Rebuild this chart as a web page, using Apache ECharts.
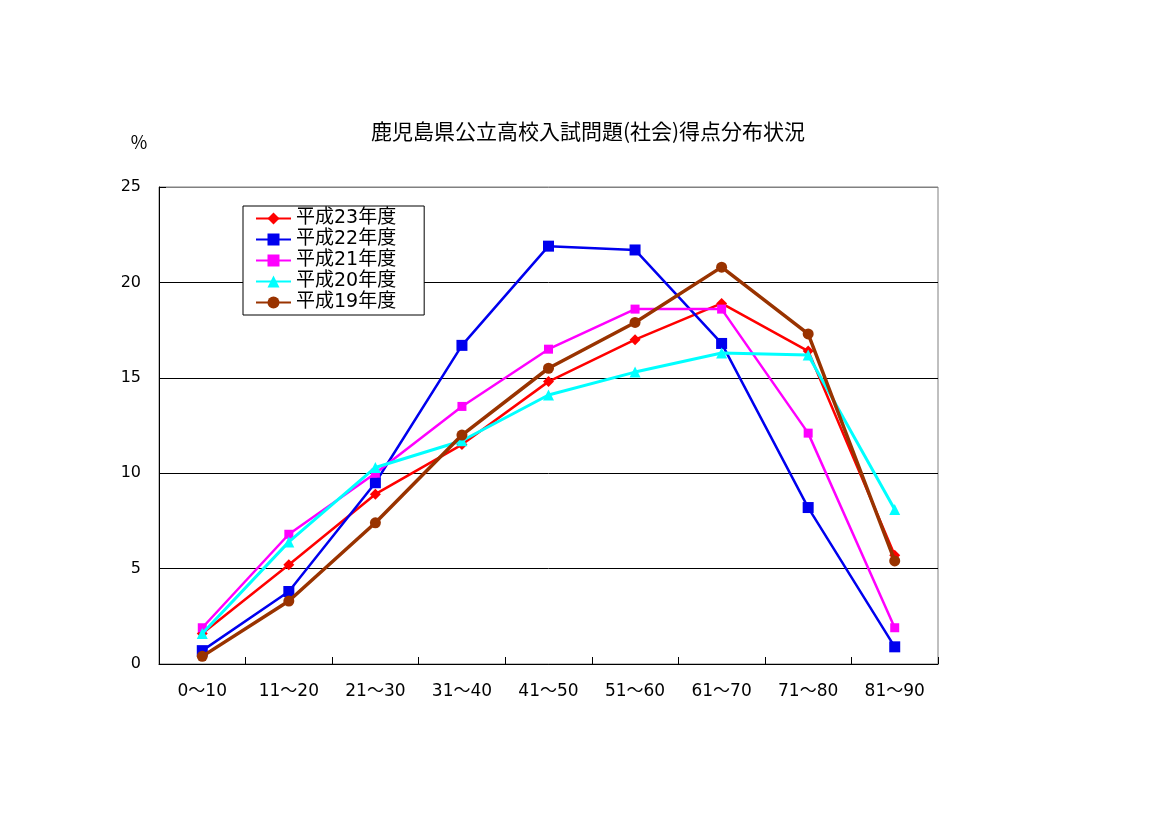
<!DOCTYPE html>
<html>
<head>
<meta charset="utf-8">
<script src="https://cdn.jsdelivr.net/npm/echarts@6/dist/echarts.min.js"></script>
<style>html,body{margin:0;padding:0;background:#fff}#c{width:1169px;height:826px}</style>
</head>
<body>
<div id="c"></div>
<script>
const categories = ['0～10','11～20','21～30','31～40','41～50','51～60','61～70','71～80','81～90'];
const yTicks = [0,5,10,15,20,25];
const seriesNames = ['平成23年度','平成22年度','平成21年度','平成20年度','平成19年度'];
const h23 = [1.6, 5.2, 8.9, 11.5, 14.8, 17.0, 18.9, 16.4, 5.7];
const h22 = [0.7, 3.8, 9.5, 16.7, 21.9, 21.7, 16.8, 8.2, 0.9];
const h21 = [1.9, 6.8, 10.0, 13.5, 16.5, 18.6, 18.6, 12.1, 1.9];
const h20 = [1.6, 6.4, 10.3, 11.7, 14.1, 15.3, 16.3, 16.2, 8.1];
const h19 = [0.4, 3.3, 7.4, 12.0, 15.5, 17.9, 20.8, 17.3, 5.4];

const font = '"Noto Sans CJK JP", "Noto Sans", sans-serif';
const numFont = '"DejaVu Sans", "Noto Sans CJK JP", sans-serif';
const styles = [
  {color:'#ff0000', width:2.5, symbol:'diamond', size:11},
  {color:'#0000ee', width:2.5, symbol:'rect', size:11},
  {color:'#ff00ff', width:2.5, symbol:'rect', size:9},
  {color:'#00ffff', width:3, symbol:'triangle', size:11},
  {color:'#993300', width:3.5, symbol:'circle', size:11}
];
const dataSets = [h23, h22, h21, h20, h19];

const chart = echarts.init(document.getElementById('c'), null, {renderer:'canvas'});
chart.setOption({
  animation:false,
  backgroundColor:'#fff',
  title:[
    {text:'鹿児島県公立高校入試問題(社会)得点分布状況', left:583, top:116, textAlign:'center',
     textStyle:{fontFamily:font, fontSize:21, fontWeight:'normal', color:'#000'}},
    {text:'％', left:125, top:128, textStyle:{fontFamily:font, fontSize:18, fontWeight:'normal', color:'#000'}}
  ],
  legend:{
    orient:'vertical', left:243, top:206,
    data:seriesNames,
    backgroundColor:'#fff', borderColor:'#000', borderWidth:1,
    padding:[3,28,3,12],
    itemWidth:35, itemHeight:15, itemGap:2,
    textStyle:{fontFamily:numFont, fontSize:19, lineHeight:15, color:'#000'}
  },
  grid:{left:159, right:231, top:187, bottom:162, show:true, borderColor:'#808080', borderWidth:1, containLabel:false},
  xAxis:{
    type:'category', data:categories, boundaryGap:true,
    axisLine:{lineStyle:{color:'#000', width:1}},
    axisTick:{show:true, inside:true, length:7, lineStyle:{color:'#000'}},
    axisLabel:{fontFamily:numFont, fontSize:17, color:'#000', margin:19},
    splitLine:{show:false}
  },
  yAxis:{
    type:'value', min:yTicks[0], max:yTicks[yTicks.length-1], interval:5,
    axisLine:{show:true, lineStyle:{color:'#000', width:1}},
    axisTick:{show:true, inside:true, length:7, lineStyle:{color:'#000'}},
    axisLabel:{fontFamily:numFont, fontSize:16, color:'#000', margin:18},
    splitLine:{show:true, lineStyle:{color:['#000','#000','#000','#000','#000','#808080'], width:1}}
  },
  series: seriesNames.map((n,i)=>({
    name:n, type:'line', data:dataSets[i],
    symbol:styles[i].symbol, symbolSize:styles[i].size,
    itemStyle:{color:styles[i].color},
    lineStyle:{color:styles[i].color, width:styles[i].width},
    z: 2+i
  }))
});
</script>
</body>
</html>
